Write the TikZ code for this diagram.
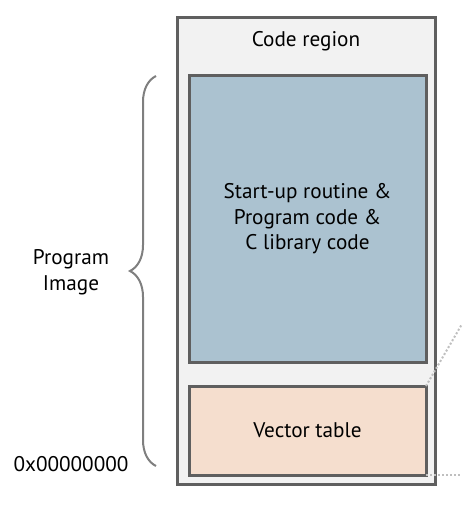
\documentclass[tikz,border=0pt]{standalone}
\usepackage{fontspec}
\setmainfont{PT Sans}
\usepackage{xcolor}
\usepackage{tikz}
\usetikzlibrary{decorations.pathreplacing}
\definecolor{region_grey}{HTML}{F2F2F2}
\definecolor{frame_grey}{HTML}{5F5F5F}
\definecolor{brace_grey}{HTML}{7F7F7F}
\definecolor{dot_grey}{HTML}{BFBFBF}
\definecolor{code_blue}{HTML}{ABC2D0}
\definecolor{vector_peach}{HTML}{F5DECE}

\begin{document}
\begin{tikzpicture}[x=0.5pt, y=-0.5pt, font=\fontsize{10.6}{12.75}\selectfont,
                box/.style={draw=frame_grey, line width=1.5pt, inner sep=0pt, outer sep=0pt, align=center}]
                \useasboundingbox (0,0) rectangle (462,508);
                \node[box, fill=region_grey, minimum width=129pt, minimum height=233pt] (region) at (306.5,251) {};
                \node[box, fill=code_blue, minimum width=118.5pt, minimum height=143pt] (code) at (307.5,219)
                    {Start-up routine \&\\ Program code \&\\ C library code};
                \node[box, fill=vector_peach, minimum width=118.5pt, minimum height=44.5pt] (vectors) at (307.5,430.5) {Vector table};
                \node (title) at (306,41) {Code region};
                \node[align=center] (image) at (71,272) {Program\\ Image};
                \node (origin) at (71,464) {0x00000000};
                \draw[brace_grey, line width=1pt, decorate, decoration={brace, amplitude=13pt}] (156,466) -- (156,76);
                \coordinate (upper_end) at (462,324);
                \coordinate (lower_end) at (462,475);
                \draw[dot_grey, line width=1pt, dash pattern=on 1pt off 1pt] (vectors.north east) -- (upper_end);
                \draw[dot_grey, line width=1pt, dash pattern=on 1pt off 1pt] (vectors.south east) -- (lower_end);
            \end{tikzpicture}
\end{document}
